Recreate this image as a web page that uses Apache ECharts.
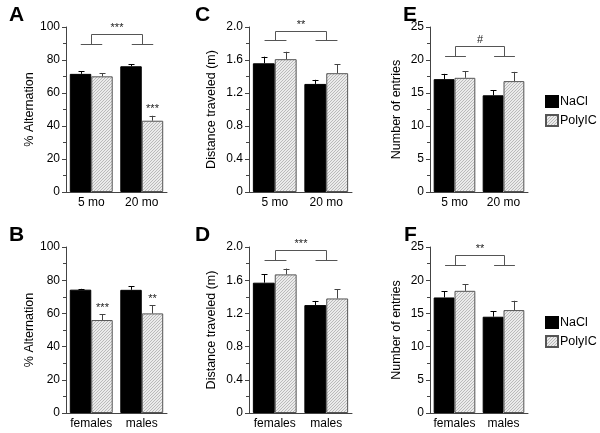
<!DOCTYPE html>
<html><head><meta charset="utf-8">
<script src="https://cdn.jsdelivr.net/npm/echarts@6/dist/echarts.min.js"></script>
<style>html,body{margin:0;padding:0;background:#fff}#c{width:600px;height:433px}</style>
</head><body><div id="c"></div>
<script>
// ---- data ----
var catsAge = ['5 mo', '20 mo'];
var catsSex = ['females', 'males'];

var A_nacl = [71.6, 76.2], A_naclErr = [1.5, 1.2];
var A_poly = [70.1, 43.2], A_polyErr = [1.9, 3.0];
var A_sig = ['', '***'];
var A_bracket = [90, 96], A_bracketLabel = '***';

var B_nacl = [74.3, 74.2], B_naclErr = [0.5, 2.2];
var B_poly = [56.0, 60.0], B_polyErr = [3.6, 4.8];
var B_sig = ['***', '**'];

var C_nacl = [1.56, 1.31], C_naclErr = [0.08, 0.05];
var C_poly = [1.61, 1.44], C_polyErr = [0.09, 0.11];
var C_bracket = [1.84, 1.95], C_bracketLabel = '**';

var D_nacl = [1.57, 1.30], D_naclErr = [0.10, 0.05];
var D_poly = [1.67, 1.38], D_polyErr = [0.07, 0.11];
var D_bracket = [1.84, 1.96], D_bracketLabel = '***';

var E_nacl = [17.1, 14.65], E_naclErr = [0.8, 0.8];
var E_poly = [17.3, 16.8], E_polyErr = [1.0, 1.4];
var E_bracket = [20.6, 22.1], E_bracketLabel = '#';

var F_nacl = [17.4, 14.5], F_naclErr = [0.9, 0.8];
var F_poly = [18.4, 15.5], F_polyErr = [1.0, 1.4];
var F_bracket = [22.3, 23.8], F_bracketLabel = '**';

// ---- style ----
var FONT = 'Liberation Sans, Arial, sans-serif';
var AXIS = '#444';
var GAP = 0.15;

var pc = document.createElement('canvas');
pc.width = 3; pc.height = 3;
var g = pc.getContext('2d');
for (var yy = 0; yy < 3; yy++) for (var xx = 0; xx < 3; xx++) {
  g.fillStyle = ((xx + yy) % 3 === 2) ? '#bababa' : '#ebebeb';
  g.fillRect(xx, yy, 1, 1);
}
var hatch = {image: pc, repeat: 'repeat'};

var panels = [
  {letter:'A', cats:catsAge, nacl:A_nacl, ne:A_naclErr, poly:A_poly, pe:A_polyErr, sig:A_sig, br:A_bracket, bl:A_bracketLabel,
   grid:{left:66, top:27, width:101, height:165}, max:100, interval:20, name:'% Alternation', gap:30, dec:0, lx:9, ly:5},
  {letter:'B', cats:catsSex, nacl:B_nacl, ne:B_naclErr, poly:B_poly, pe:B_polyErr, sig:B_sig, br:null,
   grid:{left:66, top:247, width:101, height:166}, max:100, interval:20, name:'% Alternation', gap:30, dec:0, lx:9, ly:225},
  {letter:'C', cats:catsAge, nacl:C_nacl, ne:C_naclErr, poly:C_poly, pe:C_polyErr, sig:null, br:C_bracket, bl:C_bracketLabel,
   grid:{left:249, top:27, width:103, height:165}, max:2.0, interval:0.4, name:'Distance traveled (m)', gap:31, dec:1, lx:195, ly:5},
  {letter:'D', cats:catsSex, nacl:D_nacl, ne:D_naclErr, poly:D_poly, pe:D_polyErr, sig:null, br:D_bracket, bl:D_bracketLabel,
   grid:{left:249, top:247, width:103, height:166}, max:2.0, interval:0.4, name:'Distance traveled (m)', gap:31, dec:1, lx:195, ly:225},
  {letter:'E', cats:catsAge, nacl:E_nacl, ne:E_naclErr, poly:E_poly, pe:E_polyErr, sig:null, br:E_bracket, bl:E_bracketLabel,
   grid:{left:430, top:27, width:98, height:165}, max:25, interval:5, name:'Number of entries', gap:27, dec:0, lx:403, ly:5},
  {letter:'F', cats:catsSex, nacl:F_nacl, ne:F_naclErr, poly:F_poly, pe:F_polyErr, sig:null, br:F_bracket, bl:F_bracketLabel,
   grid:{left:430, top:247, width:98, height:166}, max:25, interval:5, name:'Number of entries', gap:27, dec:0, lx:404, ly:225}
];

var legendBase = {orient:'vertical', padding:0, itemWidth:12, itemHeight:11, itemGap:6, icon:'rect',
  data:['NaCl','PolyIC'],
  textStyle:{fontSize:12.5, color:'#000', fontFamily:FONT, padding:[0,0,0,-3]}, selectedMode:false};

var option = {
  animation: false,
  backgroundColor: '#fff',
  textStyle: {fontFamily: FONT},
  title: [], grid: [], xAxis: [], yAxis: [], series: [],
  legend: [
    Object.assign({}, legendBase, {left:545, top:95}),
    Object.assign({}, legendBase, {left:545, top:316})
  ]
};

panels.forEach(function (p, i) {
  option.title.push({text:p.letter, left:p.lx, top:p.ly, padding:0,
    textStyle:{fontSize:21, fontWeight:'bold', color:'#000', fontFamily:FONT}});
  option.grid.push(p.grid);
  option.xAxis.push({type:'category', gridIndex:i, data:p.cats,
    axisLine:{lineStyle:{color:AXIS, width:1}}, axisTick:{show:false},
    axisLabel:{color:'#000', fontSize:12, margin:5, interval:0, fontFamily:FONT}});
  option.yAxis.push({type:'value', gridIndex:i, min:0, max:p.max, interval:p.interval,
    name:p.name, nameLocation:'middle', nameGap:p.gap,
    nameTextStyle:{fontSize:12.5, color:'#000', fontFamily:FONT},
    axisLine:{show:true, lineStyle:{color:AXIS, width:1}},
    axisTick:{show:true, length:4, lineStyle:{color:AXIS}},
    minorTick:{show:true, splitNumber:2, length:3, lineStyle:{color:AXIS}},
    splitLine:{show:false},
    axisLabel:{color:'#000', fontSize:12, margin:6, fontFamily:FONT,
      formatter:(function(dec){return function(v){return v===0?'0':v.toFixed(dec);};})(p.dec)}});

  option.series.push({type:'bar', name:'NaCl', xAxisIndex:i, yAxisIndex:i, data:p.nacl,
    barGap:'0%', barCategoryGap:(GAP*100)+'%',
    itemStyle:{color:'#000', borderColor:'#000', borderWidth:1}, z:2});
  option.series.push({type:'bar', name:'PolyIC', xAxisIndex:i, yAxisIndex:i, data:p.poly,
    barGap:'0%', barCategoryGap:(GAP*100)+'%',
    itemStyle:{color:hatch, borderColor:'#555', borderWidth:1}, z:2});

  // error bars + significance stars
  var eb = [];
  p.nacl.forEach(function(v,k){ eb.push([k, v, v + p.ne[k], 0, '']); });
  p.poly.forEach(function(v,k){ eb.push([k, v, v + p.pe[k], 1, p.sig ? p.sig[k] : '']); });
  option.series.push({type:'custom', xAxisIndex:i, yAxisIndex:i, data:eb, z:3,
    encode:{x:0, y:[1,2]},
    renderItem:function(params, api){
      var k = api.value(0), lo = api.value(1), hi = api.value(2), s = api.value(3);
      var band = api.size([1,0])[0];
      var bw = band*(1-GAP)/2;
      var c0 = api.coord([k, lo]), c1 = api.coord([k, hi]);
      var x = c0[0] + (s===0 ? -bw/2 : bw/2);
      x = Math.round(x) + 0.5;
      var col = s===0 ? '#000' : '#444';
      var ch = [
        {type:'line', shape:{x1:x, y1:c0[1], x2:x, y2:c1[1]}, style:{stroke:col, lineWidth:1}},
        {type:'line', shape:{x1:x-3, y1:Math.round(c1[1])+0.5, x2:x+3, y2:Math.round(c1[1])+0.5}, style:{stroke:col, lineWidth:1}}
      ];
      var lab = eb[params.dataIndex][4];
      if (lab) ch.push({type:'text', x:x, y:c1[1]-1, style:{text:lab, fill:'#222', fontSize:11, fontFamily:FONT, align:'center', verticalAlign:'bottom'}});
      return {type:'group', children:ch};
    }});

  // comparison bracket
  if (p.br) {
    var bl = p.bl;
    option.series.push({type:'custom', xAxisIndex:i, yAxisIndex:i, data:[[0, p.br[0], p.br[1]]], z:3,
      encode:{x:0, y:[1,2]},
      renderItem:function(params, api){
        var lo = api.value(1), hi = api.value(2);
        var band = api.size([1,0])[0];
        var bw = band*(1-GAP)/2;
        var ch = [];
        var pts = [];
        [0,1].forEach(function(k){
          var a = api.coord([k, lo]), b = api.coord([k, hi]);
          var cx = Math.round(a[0]) + 0.5, yl = Math.round(a[1]) + 0.5, yh = Math.round(b[1]) + 0.5;
          ch.push({type:'line', shape:{x1:cx-bw/2, y1:yl, x2:cx+bw/2, y2:yl}, style:{stroke:'#555', lineWidth:1}});
          ch.push({type:'line', shape:{x1:cx, y1:yl, x2:cx, y2:yh}, style:{stroke:'#555', lineWidth:1}});
          pts.push([cx, yh]);
        });
        ch.push({type:'line', shape:{x1:pts[0][0], y1:pts[0][1], x2:pts[1][0], y2:pts[1][1]}, style:{stroke:'#555', lineWidth:1}});
        ch.push({type:'text', x:(pts[0][0]+pts[1][0])/2, y:pts[0][1]-1,
          style:{text:bl, fill:'#222', fontSize:11, fontFamily:FONT, align:'center', verticalAlign:'bottom'}});
        return {type:'group', children:ch};
      }});
  }
});

var chart = echarts.init(document.getElementById('c'), null, {renderer:'canvas'});
chart.setOption(option);
</script>
</body></html>
